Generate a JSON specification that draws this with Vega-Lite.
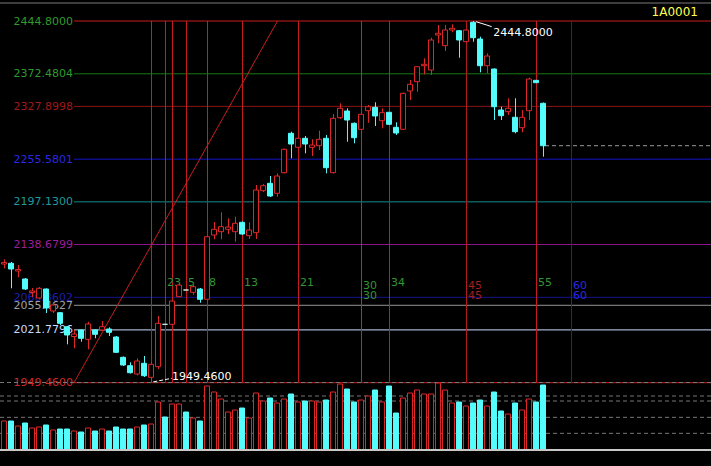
{
"$schema": "https://vega.github.io/schema/vega-lite/v6.json",
"width": 711, "height": 466, "autosize": "none", "padding": 0, "background": "#000000",
"config": {"view": {"stroke": null}, "text": {"font": "DejaVu Sans", "fontSize": 11}, "scale": {"continuousPadding": 0}},
"datasets": {
"candles": [
{"i":0,"o":2112.01,"h":2118.45,"l":2106.12,"c":2114.07,"v":870},
{"i":1,"o":2112.97,"h":2114.75,"l":2078.73,"c":2105.16,"v":870},
{"i":2,"o":2102.43,"h":2110.64,"l":2093.80,"c":2104.48,"v":720},
{"i":3,"o":2091.47,"h":2092.84,"l":2076.40,"c":2077.77,"v":810},
{"i":4,"o":2072.98,"h":2079.14,"l":2066.82,"c":2075.04,"v":660},
{"i":5,"o":2065.45,"h":2080.51,"l":2064.08,"c":2078.73,"v":690},
{"i":6,"o":2077.77,"h":2078.45,"l":2044.91,"c":2051.75,"v":750},
{"i":7,"o":2047.65,"h":2059.02,"l":2044.91,"c":2055.86,"v":600},
{"i":8,"o":2045.32,"h":2046.29,"l":2028.47,"c":2030.80,"v":630},
{"i":9,"o":2026.14,"h":2027.10,"l":2002.05,"c":2014.78,"v":630},
{"i":10,"o":2012.72,"h":2021.62,"l":1996.57,"c":2016.15,"v":570},
{"i":11,"o":2021.62,"h":2022.31,"l":2005.60,"c":2010.26,"v":540},
{"i":12,"o":2008.89,"h":2032.99,"l":1995.20,"c":2029.84,"v":660},
{"i":13,"o":2021.62,"h":2022.31,"l":2010.26,"c":2015.73,"v":570},
{"i":14,"o":2021.62,"h":2033.95,"l":2020.25,"c":2026.14,"v":630},
{"i":15,"o":2022.99,"h":2025.33,"l":2013.41,"c":2018.47,"v":570},
{"i":16,"o":2012.04,"h":2013.41,"l":1990.13,"c":1991.09,"v":690},
{"i":17,"o":1984.24,"h":1985.33,"l":1972.32,"c":1973.69,"v":630},
{"i":18,"o":1972.74,"h":1977.39,"l":1962.05,"c":1963.15,"v":630},
{"i":19,"o":1961.37,"h":1982.87,"l":1959.31,"c":1979.17,"v":690},
{"i":20,"o":1976.02,"h":1986.02,"l":1957.26,"c":1959.04,"v":750},
{"i":21,"o":1956.85,"h":1977.80,"l":1949.46,"c":1974.65,"v":780},
{"i":22,"o":1971.37,"h":2040.80,"l":1968.21,"c":2030.80,"v":1440},
{"i":23,"o":2029.43,"h":2029.43,"l":2029.43,"c":2029.43,"v":990},
{"i":24,"o":2029.43,"h":2062.71,"l":2028.47,"c":2061.34,"v":1380},
{"i":25,"o":2067.23,"h":2085.99,"l":2066.82,"c":2083.25,"v":1380},
{"i":26,"o":2076.40,"h":2076.40,"l":2076.40,"c":2076.40,"v":1140},
{"i":27,"o":2073.26,"h":2083.25,"l":2069.56,"c":2080.93,"v":960},
{"i":28,"o":2077.77,"h":2079.14,"l":2059.02,"c":2063.67,"v":870},
{"i":29,"o":2063.67,"h":2150.36,"l":2062.71,"c":2149.40,"v":1920},
{"i":30,"o":2151.73,"h":2169.53,"l":2145.84,"c":2159.53,"v":1740},
{"i":31,"o":2156.25,"h":2182.82,"l":2145.84,"c":2163.10,"v":1530},
{"i":32,"o":2159.53,"h":2174.60,"l":2153.10,"c":2162.68,"v":1140},
{"i":33,"o":2156.25,"h":2176.79,"l":2142.55,"c":2167.75,"v":1200},
{"i":34,"o":2169.12,"h":2170.22,"l":2151.73,"c":2153.10,"v":1260},
{"i":35,"o":2150.77,"h":2169.12,"l":2146.25,"c":2158.57,"v":960},
{"i":36,"o":2154.88,"h":2220.20,"l":2146.25,"c":2213.35,"v":1710},
{"i":37,"o":2212.40,"h":2221.57,"l":2210.62,"c":2219.24,"v":1470},
{"i":38,"o":2222.53,"h":2232.53,"l":2203.77,"c":2205.14,"v":1560},
{"i":39,"o":2208.84,"h":2236.23,"l":2204.18,"c":2232.53,"v":1410},
{"i":40,"o":2237.05,"h":2270.19,"l":2235.95,"c":2269.09,"v":1530},
{"i":41,"o":2291.01,"h":2293.20,"l":2256.77,"c":2276.35,"v":1680},
{"i":42,"o":2271.83,"h":2285.25,"l":2270.87,"c":2284.16,"v":1440},
{"i":43,"o":2284.16,"h":2287.31,"l":2263.62,"c":2276.35,"v":1470},
{"i":44,"o":2271.83,"h":2282.79,"l":2259.92,"c":2274.98,"v":1470},
{"i":45,"o":2274.02,"h":2294.57,"l":2268.13,"c":2282.79,"v":1440},
{"i":46,"o":2284.16,"h":2288.68,"l":2236.23,"c":2243.90,"v":1500},
{"i":47,"o":2237.05,"h":2317.44,"l":2235.95,"c":2311.55,"v":1740},
{"i":48,"o":2312.37,"h":2332.09,"l":2310.59,"c":2325.24,"v":1980},
{"i":49,"o":2321.55,"h":2325.24,"l":2279.50,"c":2309.22,"v":1830},
{"i":50,"o":2304.70,"h":2305.80,"l":2277.31,"c":2284.98,"v":1440},
{"i":51,"o":2296.48,"h":2318.12,"l":2295.53,"c":2317.03,"v":1500},
{"i":52,"o":2321.96,"h":2329.76,"l":2305.52,"c":2327.43,"v":1620},
{"i":53,"o":2326.61,"h":2333.46,"l":2301.00,"c":2314.70,"v":1800},
{"i":54,"o":2308.26,"h":2325.24,"l":2297.85,"c":2319.22,"v":1440},
{"i":55,"o":2319.77,"h":2320.18,"l":2302.37,"c":2303.33,"v":1920},
{"i":56,"o":2299.22,"h":2306.07,"l":2288.68,"c":2291.42,"v":1110},
{"i":57,"o":2296.48,"h":2346.88,"l":2295.53,"c":2345.79,"v":1560},
{"i":58,"o":2348.94,"h":2364.00,"l":2336.61,"c":2358.11,"v":1710},
{"i":59,"o":2361.67,"h":2383.17,"l":2347.98,"c":2382.21,"v":1800},
{"i":60,"o":2383.58,"h":2393.72,"l":2371.81,"c":2385.50,"v":1680},
{"i":61,"o":2377.69,"h":2421.93,"l":2370.85,"c":2418.78,"v":1680},
{"i":62,"o":2425.63,"h":2439.32,"l":2414.26,"c":2427.96,"v":2010},
{"i":63,"o":2410.97,"h":2439.32,"l":2403.72,"c":2432.47,"v":1800},
{"i":64,"o":2432.47,"h":2440.28,"l":2429.33,"c":2434.80,"v":1410},
{"i":65,"o":2431.52,"h":2432.47,"l":2394.54,"c":2418.78,"v":1440},
{"i":66,"o":2416.45,"h":2433.16,"l":2416.04,"c":2432.47,"v":1320},
{"i":67,"o":2443.02,"h":2444.80,"l":2416.45,"c":2421.93,"v":1410},
{"i":68,"o":2420.15,"h":2423.30,"l":2374.55,"c":2383.58,"v":1500},
{"i":69,"o":2383.58,"h":2400.57,"l":2373.18,"c":2396.87,"v":1320},
{"i":70,"o":2379.06,"h":2379.75,"l":2309.22,"c":2327.43,"v":1740},
{"i":71,"o":2322.91,"h":2327.43,"l":2309.22,"c":2315.11,"v":1170},
{"i":72,"o":2320.59,"h":2338.94,"l":2316.07,"c":2325.24,"v":1080},
{"i":73,"o":2312.92,"h":2338.94,"l":2291.01,"c":2293.20,"v":1410},
{"i":74,"o":2298.67,"h":2322.91,"l":2292.38,"c":2312.92,"v":1200},
{"i":75,"o":2321.96,"h":2367.15,"l":2309.22,"c":2365.37,"v":1530},
{"i":76,"o":2363.59,"h":2363.59,"l":2360.30,"c":2360.30,"v":1440},
{"i":77,"o":2332.09,"h":2333.19,"l":2258.96,"c":2274.02,"v":1950}
],
"levels": [
{"lvl":"100%","v":2444.8},{"lvl":"85.4%","v":2372.4804},{"lvl":"76.4%","v":2327.8998},{"lvl":"61.8%","v":2255.5801},{"lvl":"50%","v":2197.13},{"lvl":"38.2%","v":2138.6799},{"lvl":"23.6%","v":2066.3602},{"lvl":"21.4%","v":2055.4627},{"lvl":"14.6%","v":2021.7796},{"lvl":"0%","v":1949.46}
],
"tlines": [
{"bar":21,"kind":"fib"},{"bar":23,"kind":"fib"},{"bar":24,"kind":"fib"},{"bar":26,"kind":"fib"},{"bar":29,"kind":"fib"},{"bar":34,"kind":"fib"},{"bar":42,"kind":"fib"},{"bar":51,"kind":"c30"},{"bar":55,"kind":"fib"},{"bar":66,"kind":"c45"},{"bar":76,"kind":"fib"},{"bar":81,"kind":"c60"}
],
"fibnums": [
{"bar":23,"t":"2"},{"bar":24,"t":"3"},{"bar":26,"t":"5"},{"bar":29,"t":"8"},{"bar":34,"t":"13"},{"bar":42,"t":"21"},{"bar":55,"t":"34"},{"bar":76,"t":"55"}
],
"cycles": [
{"bar":51,"t":"30","kind":"c30"},{"bar":66,"t":"45","kind":"c45"},{"bar":81,"t":"60","kind":"c60"}
],
"vgrid": [{"g":500},{"g":980},{"g":1470},{"g":1620},{"g":2025}],
"one": [{}]
},
"resolve": {"scale": {"y": "independent"}},
"layer": [
{
"resolve": {"scale": {"stroke": "independent", "fill": "independent", "color": "independent"}},
"layer": [
{"data": {"name": "levels"}, "mark": {"type": "rule", "strokeWidth": 1},
 "encoding": {
  "x": {"datum": 10, "type": "quantitative", "scale": {"domain": [-0.5714, 101], "range": [0, 711], "nice": false, "zero": false, "padding": 0}, "axis": null},
  "x2": {"datum": 101},
  "y": {"field": "v", "type": "quantitative", "scale": {"domain": [1949.46, 2444.8], "range": [382.7, 21], "nice": false, "zero": false}, "axis": null},
  "stroke": {"field": "lvl", "type": "nominal", "legend": null, "scale": {"domain": ["100%","85.4%","76.4%","61.8%","50%","38.2%","23.6%","21.4%","14.6%","0%"], "range": ["#c81e1e","#147814","#8c1414","#1414c8","#148c8c","#8c148c","#14148c","#969696","#c8dcff","#c81e1e"]}}
 }},
{"data": {"name": "tlines"}, "mark": {"type": "rule", "strokeWidth": 1, "xOffset": 0.5},
 "encoding": {
  "x": {"field": "bar", "type": "quantitative", "scale": {"domain": [-0.5714, 101], "range": [0, 711], "nice": false, "zero": false, "padding": 0}, "axis": null},
  "y": {"datum": 2444.8, "type": "quantitative", "scale": {"domain": [1949.46, 2444.8], "range": [382.7, 21], "nice": false, "zero": false}, "axis": null},
  "y2": {"datum": 1949.46},
  "stroke": {"field": "kind", "type": "nominal", "legend": null, "scale": {"domain": ["fib","c30","c45","c60"], "range": ["#c81e1e","#1e821e","#b41e1e","#1e1ec8"]}}
 }},
{"data": {"name": "one"}, "mark": {"type": "rule", "strokeWidth": 1, "color": "#c81e1e"},
 "encoding": {
  "x": {"datum": 10, "type": "quantitative", "scale": {"domain": [-0.5714, 101], "range": [0, 711], "nice": false, "zero": false, "padding": 0}, "axis": null},
  "x2": {"datum": 39.07},
  "y": {"datum": 1949.46, "type": "quantitative", "scale": {"domain": [1949.46, 2444.8], "range": [382.7, 21], "nice": false, "zero": false}, "axis": null},
  "y2": {"datum": 2444.8}
 }},
{"data": {"name": "one"}, "mark": {"type": "rule", "strokeWidth": 1, "color": "#7a7a7a"},
 "encoding": {
  "x": {"datum": -0.5714, "type": "quantitative", "scale": {"domain": [-0.5714, 101], "range": [0, 711], "nice": false, "zero": false, "padding": 0}, "axis": null},
  "x2": {"datum": 101},
  "y": {"datum": 2469.45, "type": "quantitative", "scale": {"domain": [1949.46, 2444.8], "range": [382.7, 21], "nice": false, "zero": false}, "axis": null}
 }},
{"data": {"name": "levels"}, "mark": {"type": "text", "align": "right", "baseline": "middle", "dy": 0.5},
 "encoding": {
  "x": {"datum": 9.857, "type": "quantitative", "scale": {"domain": [-0.5714, 101], "range": [0, 711], "nice": false, "zero": false, "padding": 0}, "axis": null},
  "y": {"field": "v", "type": "quantitative", "scale": {"domain": [1949.46, 2444.8], "range": [382.7, 21], "nice": false, "zero": false}, "axis": null},
  "text": {"field": "v", "type": "quantitative", "format": ".4f"},
  "fill": {"field": "lvl", "type": "nominal", "legend": null, "scale": {"domain": ["100%","85.4%","76.4%","61.8%","50%","38.2%","23.6%","21.4%","14.6%","0%"], "range": ["#2e9b2e","#2e9b2e","#a01818","#2828e6","#1e9a9a","#9a1e9a","#1e1ea5","#a0a0a0","#c8dcff","#d22828"]}}
 }},
{"data": {"name": "fibnums"}, "mark": {"type": "text", "align": "left", "baseline": "middle", "dx": 2, "fill": "#329632"},
 "encoding": {
  "x": {"field": "bar", "type": "quantitative", "scale": {"domain": [-0.5714, 101], "range": [0, 711], "nice": false, "zero": false, "padding": 0}, "axis": null},
  "y": {"datum": 2085.58, "type": "quantitative", "scale": {"domain": [1949.46, 2444.8], "range": [382.7, 21], "nice": false, "zero": false}, "axis": null},
  "text": {"field": "t", "type": "nominal"}
 }},
{"data": {"name": "cycles"}, "mark": {"type": "text", "align": "left", "baseline": "middle", "dx": 2},
 "encoding": {
  "x": {"field": "bar", "type": "quantitative", "scale": {"domain": [-0.5714, 101], "range": [0, 711], "nice": false, "zero": false, "padding": 0}, "axis": null},
  "y": {"datum": 2082.29, "type": "quantitative", "scale": {"domain": [1949.46, 2444.8], "range": [382.7, 21], "nice": false, "zero": false}, "axis": null},
  "text": {"field": "t", "type": "nominal"},
  "fill": {"field": "kind", "type": "nominal", "legend": null, "scale": {"domain": ["c30","c45","c60"], "range": ["#329632","#a01e1e","#2828e6"]}}
 }},
{"data": {"name": "cycles"}, "mark": {"type": "text", "align": "left", "baseline": "middle", "dx": 2},
 "encoding": {
  "x": {"field": "bar", "type": "quantitative", "scale": {"domain": [-0.5714, 101], "range": [0, 711], "nice": false, "zero": false, "padding": 0}, "axis": null},
  "y": {"datum": 2068.59, "type": "quantitative", "scale": {"domain": [1949.46, 2444.8], "range": [382.7, 21], "nice": false, "zero": false}, "axis": null},
  "text": {"field": "t", "type": "nominal"},
  "fill": {"field": "kind", "type": "nominal", "legend": null, "scale": {"domain": ["c30","c45","c60"], "range": ["#329632","#a01e1e","#2828e6"]}}
 }},
{"data": {"name": "one"}, "mark": {"type": "rule", "strokeWidth": 1, "color": "#9a9a9a", "strokeDash": [4, 3]},
 "encoding": {
  "x": {"datum": 77.29, "type": "quantitative", "scale": {"domain": [-0.5714, 101], "range": [0, 711], "nice": false, "zero": false, "padding": 0}, "axis": null},
  "x2": {"datum": 101},
  "y": {"datum": 2274.02, "type": "quantitative", "scale": {"domain": [1949.46, 2444.8], "range": [382.7, 21], "nice": false, "zero": false}, "axis": null}
 }},
{"data": {"name": "candles"}, "mark": {"type": "rule", "strokeWidth": 1, "xOffset": 0.5},
 "encoding": {
  "x": {"field": "i", "type": "quantitative", "scale": {"domain": [-0.5714, 101], "range": [0, 711], "nice": false, "zero": false, "padding": 0}, "axis": null},
  "y": {"field": "h", "type": "quantitative", "scale": {"domain": [1949.46, 2444.8], "range": [382.7, 21], "nice": false, "zero": false}, "axis": null},
  "y2": {"field": "l"},
  "stroke": {"condition": [{"test": "datum.c > datum.o", "value": "#e02828"}, {"test": "datum.c == datum.o", "value": "#c8f0f0"}], "value": "#54fcfc"}
 }},
{"data": {"name": "candles"}, "mark": {"type": "bar", "width": 5, "strokeWidth": 1},
 "encoding": {
  "x": {"field": "i", "type": "quantitative", "scale": {"domain": [-0.5714, 101], "range": [0, 711], "nice": false, "zero": false, "padding": 0}, "axis": null},
  "y": {"field": "o", "type": "quantitative", "scale": {"domain": [1949.46, 2444.8], "range": [382.7, 21], "nice": false, "zero": false}, "axis": null},
  "y2": {"field": "c"},
  "fill": {"condition": [{"test": "datum.c > datum.o", "value": "#000000"}, {"test": "datum.c == datum.o", "value": "#c8f0f0"}], "value": "#54fcfc"},
  "stroke": {"condition": [{"test": "datum.c > datum.o", "value": "#e02828"}, {"test": "datum.c == datum.o", "value": "#c8f0f0"}], "value": "#54fcfc"}
 }},
{"data": {"name": "one"}, "mark": {"type": "rule", "strokeWidth": 1, "color": "#ffffff", "strokeDash": [4, 2]},
 "encoding": {
  "x": {"datum": 21.33, "type": "quantitative", "scale": {"domain": [-0.5714, 101], "range": [0, 711], "nice": false, "zero": false, "padding": 0}, "axis": null},
  "x2": {"datum": 23.96},
  "y": {"datum": 1950.6, "type": "quantitative", "scale": {"domain": [1949.46, 2444.8], "range": [382.7, 21], "nice": false, "zero": false}, "axis": null},
  "y2": {"datum": 1955.47}
 }},
{"data": {"name": "one"}, "mark": {"type": "text", "align": "left", "baseline": "middle", "fill": "#ffffff", "text": "1949.4600"},
 "encoding": {
  "x": {"datum": 24.0, "type": "quantitative", "scale": {"domain": [-0.5714, 101], "range": [0, 711], "nice": false, "zero": false, "padding": 0}, "axis": null},
  "y": {"datum": 1957.26, "type": "quantitative", "scale": {"domain": [1949.46, 2444.8], "range": [382.7, 21], "nice": false, "zero": false}, "axis": null}
 }},
{"data": {"name": "one"}, "mark": {"type": "rule", "strokeWidth": 1, "color": "#ffffff"},
 "encoding": {
  "x": {"datum": 67.43, "type": "quantitative", "scale": {"domain": [-0.5714, 101], "range": [0, 711], "nice": false, "zero": false, "padding": 0}, "axis": null},
  "x2": {"datum": 68.96},
  "y": {"datum": 2443.84, "type": "quantitative", "scale": {"domain": [1949.46, 2444.8], "range": [382.7, 21], "nice": false, "zero": false}, "axis": null},
  "y2": {"datum": 2439.32}
 }},
{"data": {"name": "one"}, "mark": {"type": "rule", "strokeWidth": 1, "color": "#ffffff"},
 "encoding": {
  "x": {"datum": 68.96, "type": "quantitative", "scale": {"domain": [-0.5714, 101], "range": [0, 711], "nice": false, "zero": false, "padding": 0}, "axis": null},
  "x2": {"datum": 69.67},
  "y": {"datum": 2439.32, "type": "quantitative", "scale": {"domain": [1949.46, 2444.8], "range": [382.7, 21], "nice": false, "zero": false}, "axis": null},
  "y2": {"datum": 2437.0}
 }},
{"data": {"name": "one"}, "mark": {"type": "text", "align": "left", "baseline": "middle", "fill": "#ffffff", "text": "2444.8000"},
 "encoding": {
  "x": {"datum": 69.9, "type": "quantitative", "scale": {"domain": [-0.5714, 101], "range": [0, 711], "nice": false, "zero": false, "padding": 0}, "axis": null},
  "y": {"datum": 2428.78, "type": "quantitative", "scale": {"domain": [1949.46, 2444.8], "range": [382.7, 21], "nice": false, "zero": false}, "axis": null}
 }},
{"data": {"name": "one"}, "mark": {"type": "text", "align": "right", "baseline": "middle", "fill": "#ffff50", "fontSize": 12, "text": "1A0001"},
 "encoding": {
  "x": {"datum": 99.14, "type": "quantitative", "scale": {"domain": [-0.5714, 101], "range": [0, 711], "nice": false, "zero": false, "padding": 0}, "axis": null},
  "y": {"datum": 2457.5, "type": "quantitative", "scale": {"domain": [1949.46, 2444.8], "range": [382.7, 21], "nice": false, "zero": false}, "axis": null}
 }}
]
},
{
"layer": [
{"data": {"name": "vgrid"}, "mark": {"type": "rule", "strokeWidth": 1, "color": "#767676", "strokeDash": [4, 3]},
 "encoding": {
  "x": {"datum": -0.5714, "type": "quantitative", "scale": {"domain": [-0.5714, 101], "range": [0, 711], "nice": false, "zero": false, "padding": 0}, "axis": null},
  "x2": {"datum": 101},
  "y": {"field": "g", "type": "quantitative", "scale": {"domain": [0, 2010], "range": [450, 383], "nice": false, "zero": false}, "axis": null}
 }},
{"data": {"name": "candles"}, "mark": {"type": "bar", "width": 5, "strokeWidth": 1},
 "encoding": {
  "x": {"field": "i", "type": "quantitative", "scale": {"domain": [-0.5714, 101], "range": [0, 711], "nice": false, "zero": false, "padding": 0}, "axis": null},
  "y": {"field": "v", "type": "quantitative", "scale": {"domain": [0, 2010], "range": [450, 383], "nice": false, "zero": false}, "axis": null},
  "y2": {"datum": 0},
  "fill": {"condition": {"test": "datum.c > datum.o", "value": "#000000"}, "value": "#54fcfc"},
  "stroke": {"condition": {"test": "datum.c > datum.o", "value": "#e02828"}, "value": "#54fcfc"}
 }},
{"data": {"name": "one"}, "mark": {"type": "rule", "strokeWidth": 2, "color": "#c8c8c8"},
 "encoding": {
  "x": {"datum": -0.5714, "type": "quantitative", "scale": {"domain": [-0.5714, 101], "range": [0, 711], "nice": false, "zero": false, "padding": 0}, "axis": null},
  "x2": {"datum": 101},
  "y": {"datum": 0, "type": "quantitative", "scale": {"domain": [0, 2010], "range": [450, 383], "nice": false, "zero": false}, "axis": null}
 }}
]
}
]
}
